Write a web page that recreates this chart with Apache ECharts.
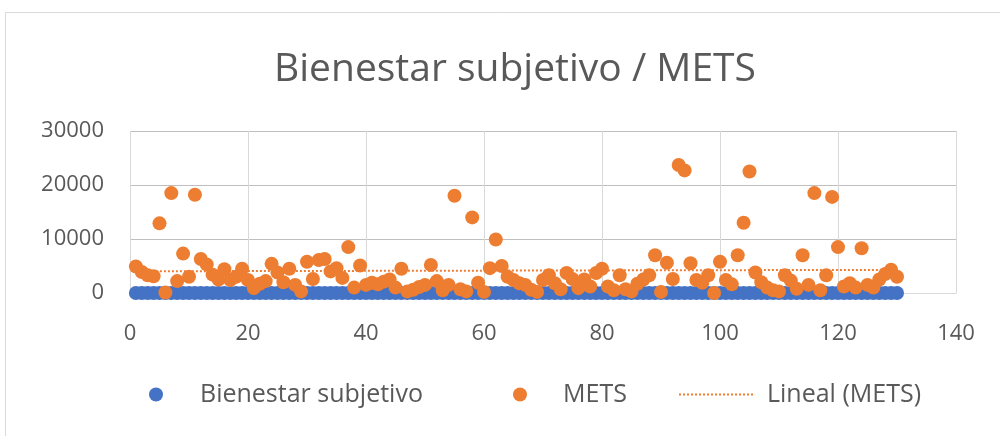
<!DOCTYPE html>
<html>
<head>
<meta charset="utf-8">
<title>Bienestar subjetivo / METS</title>
<script src="https://cdn.jsdelivr.net/npm/echarts@6/dist/echarts.min.js"></script>
<style>
  html, body { margin: 0; padding: 0; background: #fff; }
  #chart { width: 1000px; height: 436px; }
</style>
</head>
<body>
<div id="chart"></div>
<script>
// participant number 1..130
var participants = [];
for (var i = 1; i <= 130; i++) participants.push(i);

// subjective wellbeing score (sits on the zero line at this scale)
var bienestar = [
  8, 7, 9, 8, 6, 7, 8, 9, 7, 8,
  6, 8, 7, 9, 8, 7, 6, 8, 9, 7,
  8, 7, 8, 6, 9, 8, 7, 8, 7, 9,
  8, 6, 7, 8, 9, 7, 8, 8, 6, 7,
  9, 8, 7, 8, 6, 8, 7, 9, 8, 7,
  8, 9, 7, 6, 8, 7, 8, 9, 7, 8,
  6, 8, 7, 9, 8, 7, 8, 6, 9, 8,
  7, 8, 9, 7, 8, 6, 8, 7, 9, 8,
  7, 8, 6, 9, 7, 8, 8, 7, 9, 6,
  8, 7, 8, 9, 7, 8, 6, 8, 7, 9,
  8, 7, 9, 8, 6, 7, 8, 9, 7, 8,
  6, 8, 7, 9, 8, 7, 6, 8, 9, 7,
  8, 7, 8, 6, 9, 8, 7, 8, 7, 9
];

// METS per participant
var mets = [
  4900, 3900, 3300, 3100, 12900, 100, 18500, 2200, 7300, 3000,
  18200, 6300, 5300, 3400, 2500, 4400, 2400, 3000, 4500, 2400,
  900, 1700, 2200, 5400, 3800, 2000, 4500, 1500, 300, 5800,
  2600, 6100, 6300, 4000, 4600, 2800, 8500, 1000, 5100, 1500,
  1900, 1600, 2100, 2500, 1000, 4500, 300, 600, 1100, 1500,
  5200, 2200, 500, 1500, 18000, 700, 300, 14000, 1900, 200,
  4600, 9900, 5000, 3000, 2400, 1800, 1500, 600, 200, 2400,
  3300, 1800, 700, 3700, 2600, 900, 2500, 1200, 3700, 4500,
  1200, 500, 3300, 700, 300, 1700, 2500, 3300, 7000, 200,
  5600, 2600, 23700, 22700, 5500, 2400, 1900, 3300, 0, 5800,
  2400, 1600, 7000, 13000, 22500, 3800, 2000, 1000, 500, 300,
  3300, 2300, 800, 7000, 1500, 18500, 500, 3300, 17800, 8500,
  1200, 1800, 1000, 8300, 1500, 1000, 2500, 3500, 4300, 3000
];

var xTicks = [0, 20, 40, 60, 80, 100, 120, 140];
var yTicks = [0, 10000, 20000, 30000];

function pairs(xs, ys) {
  return xs.map(function (x, k) { return [x, ys[k]]; });
}

// least squares trend for METS, like Excel's linear trendline
function linearTrend(xs, ys) {
  var n = xs.length, sx = 0, sy = 0, sxy = 0, sxx = 0;
  for (var k = 0; k < n; k++) {
    sx += xs[k]; sy += ys[k]; sxy += xs[k] * ys[k]; sxx += xs[k] * xs[k];
  }
  var b = (n * sxy - sx * sy) / (n * sxx - sx * sx);
  var a = (sy - b * sx) / n;
  var x0 = xs[0], x1 = xs[n - 1];
  return [[x0, a + b * x0], [x1, a + b * x1]];
}

// dotted legend key: row of small squares
function dottedIcon(w) {
  var p = 'path://';
  for (var d = 0; d + 2 <= w; d += 4) {
    p += 'M' + d + ',0h2v2h-2z';
  }
  return p;
}

var font = 'Open Sans';
var grey = '#595959';

var chart = echarts.init(document.getElementById('chart'));
chart.setOption({
  animation: false,
  textStyle: { fontFamily: font },
  graphic: [{
    type: 'rect',
    shape: { x: 5.5, y: 12.5, width: 1000, height: 440 },
    style: { fill: 'none', stroke: '#d9d9d9', lineWidth: 1 },
    silent: true
  }],
  title: {
    text: 'Bienestar subjetivo / METS',
    left: 510,
    textAlign: 'center',
    top: 45,
    textStyle: { fontFamily: font, fontSize: 39, fontWeight: 'normal', color: grey }
  },
  legend: [{
    data: ['Bienestar subjetivo'],
    left: 144, top: 377,
    itemWidth: 14, itemHeight: 14,
    textStyle: { fontFamily: font, fontSize: 25, color: grey, padding: [0, 0, 0, 32] }
  }, {
    data: ['METS'],
    left: 508, top: 377,
    itemWidth: 14, itemHeight: 14,
    textStyle: { fontFamily: font, fontSize: 25, color: grey, padding: [0, 0, 0, 31] }
  }, {
    data: [{ name: 'Lineal (METS)', icon: dottedIcon(74) }],
    left: 674, top: 377,
    itemWidth: 74, itemHeight: 2,
    textStyle: { fontFamily: font, fontSize: 25, color: grey, padding: [0, 0, 0, 9] }
  }],
  grid: { left: 130, right: 44, top: 131, bottom: 143 },
  xAxis: {
    type: 'value',
    min: xTicks[0], max: xTicks[xTicks.length - 1], interval: 20,
    axisLine: { show: true, lineStyle: { color: '#d9d9d9' } },
    axisTick: { show: false },
    axisLabel: { margin: 30, fontFamily: font, fontSize: 22, color: grey },
    splitLine: { show: true, lineStyle: { color: '#d9d9d9' } }
  },
  yAxis: {
    type: 'value',
    min: yTicks[0], max: yTicks[yTicks.length - 1], interval: 10000,
    axisLine: { show: false },
    axisTick: { show: false },
    axisLabel: {
      margin: 26, fontFamily: font, fontSize: 22, color: grey,
      formatter: function (v) { return String(v); }
    },
    splitLine: { show: true, lineStyle: { color: '#bfbfbf' } }
  },
  series: [{
    name: 'Bienestar subjetivo',
    type: 'scatter',
    symbolSize: 14,
    itemStyle: { color: '#4472c4', opacity: 1 },
    data: pairs(participants, bienestar)
  }, {
    name: 'Lineal (METS)',
    type: 'line',
    symbol: 'none',
    showSymbol: false,
    lineStyle: { color: '#ed7d31', width: 2, type: 'dotted' },
    itemStyle: { color: '#ed7d31' },
    data: linearTrend(participants, mets)
  }, {
    name: 'METS',
    type: 'scatter',
    symbolSize: 14,
    itemStyle: { color: '#ed7d31', opacity: 1 },
    data: pairs(participants, mets)
  }]
});
</script>
</body>
</html>
